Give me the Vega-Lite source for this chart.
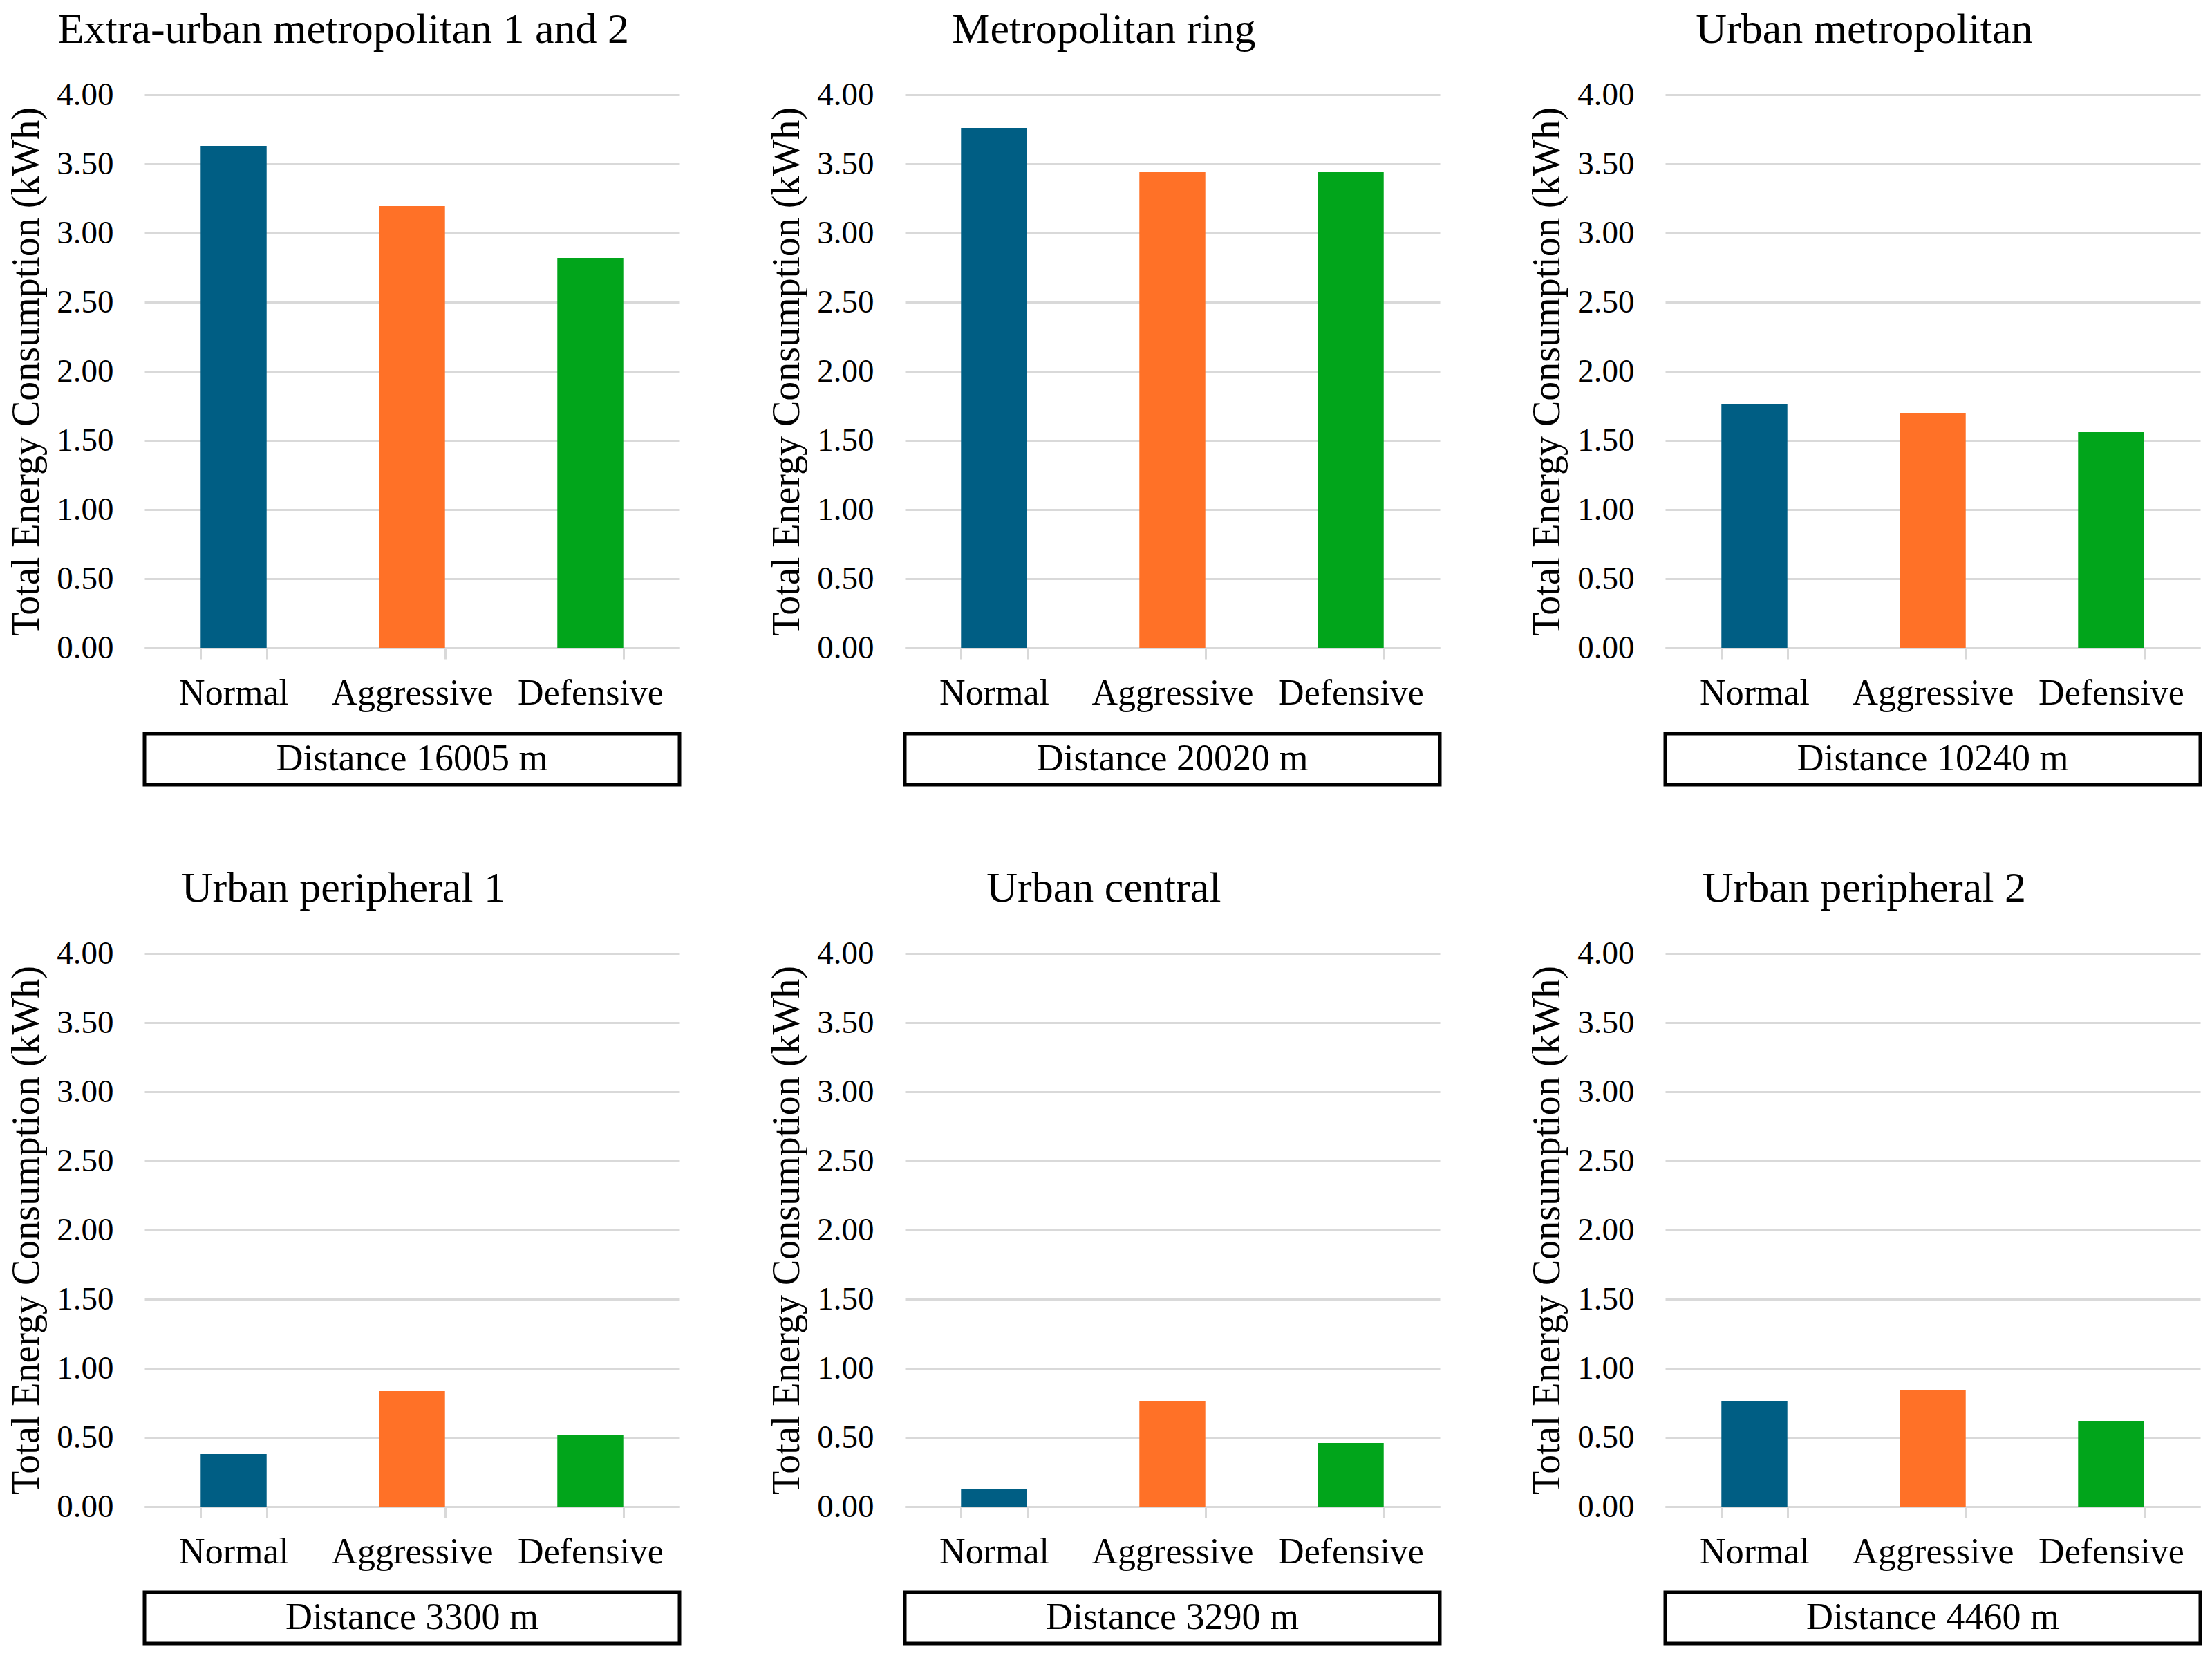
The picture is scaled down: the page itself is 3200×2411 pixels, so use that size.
{
  "$schema": "https://vega.github.io/schema/vega-lite/v6.json",
  "background": "white",
  "padding": {"left": 10, "top": 12, "right": 10, "bottom": 10},
  "datasets": {
    "energy": [
      {"region": "Extra-urban metropolitan 1 and 2", "style": "Normal", "kwh": 3.63},
      {"region": "Extra-urban metropolitan 1 and 2", "style": "Aggressive", "kwh": 3.195},
      {"region": "Extra-urban metropolitan 1 and 2", "style": "Defensive", "kwh": 2.82},
      {"region": "Metropolitan ring", "style": "Normal", "kwh": 3.76},
      {"region": "Metropolitan ring", "style": "Aggressive", "kwh": 3.44},
      {"region": "Metropolitan ring", "style": "Defensive", "kwh": 3.44},
      {"region": "Urban metropolitan", "style": "Normal", "kwh": 1.76},
      {"region": "Urban metropolitan", "style": "Aggressive", "kwh": 1.70},
      {"region": "Urban metropolitan", "style": "Defensive", "kwh": 1.56},
      {"region": "Urban peripheral 1", "style": "Normal", "kwh": 0.38},
      {"region": "Urban peripheral 1", "style": "Aggressive", "kwh": 0.835},
      {"region": "Urban peripheral 1", "style": "Defensive", "kwh": 0.52},
      {"region": "Urban central", "style": "Normal", "kwh": 0.13},
      {"region": "Urban central", "style": "Aggressive", "kwh": 0.76},
      {"region": "Urban central", "style": "Defensive", "kwh": 0.46},
      {"region": "Urban peripheral 2", "style": "Normal", "kwh": 0.76},
      {"region": "Urban peripheral 2", "style": "Aggressive", "kwh": 0.845},
      {"region": "Urban peripheral 2", "style": "Defensive", "kwh": 0.62}
    ],
    "panels": [
      {"region": "Extra-urban metropolitan 1 and 2", "distance": "Distance 16005 m"},
      {"region": "Metropolitan ring", "distance": "Distance 20020 m"},
      {"region": "Urban metropolitan", "distance": "Distance 10240 m"},
      {"region": "Urban peripheral 1", "distance": "Distance 3300 m"},
      {"region": "Urban central", "distance": "Distance 3290 m"},
      {"region": "Urban peripheral 2", "distance": "Distance 4460 m"}
    ]
  },
  "columns": 3,
  "spacing": {"row": 116, "column": 124},
  "concat": [
    {
      "spacing": 30,
      "vconcat": [
        {
          "title": "Extra-urban metropolitan 1 and 2",
          "data": {"name": "energy"},
          "transform": [{"filter": {"field": "region", "equal": "Extra-urban metropolitan 1 and 2"}}],
          "width": 774, "height": 800,
          "mark": "bar",
          "encoding": {
            "x": {"field": "style", "type": "nominal", "sort": ["Normal", "Aggressive", "Defensive"], "scale": {"paddingInner": 0.63, "paddingOuter": 0.315}, "axis": {"title": null}},
            "y": {"field": "kwh", "type": "quantitative", "scale": {"domain": [0, 4], "nice": false}, "axis": {"title": "Total Energy Consumption (kWh)", "values": [0, 0.5, 1, 1.5, 2, 2.5, 3, 3.5, 4], "format": ".2f"}},
            "color": {"field": "style", "type": "nominal", "scale": {"domain": ["Normal", "Aggressive", "Defensive"], "range": ["#005e84", "#ff7127", "#01a51b"]}, "legend": null}
          }
        },
        {
          "data": {"name": "panels"},
          "transform": [{"filter": {"field": "region", "equal": "Extra-urban metropolitan 1 and 2"}}],
          "width": 774, "height": 74,
          "view": {"stroke": "black", "strokeWidth": 5},
          "mark": {"type": "text", "font": "Liberation Serif", "fontSize": 54, "baseline": "middle", "align": "center"},
          "encoding": {"text": {"field": "distance"}}
        }
      ]
    },
    {
      "spacing": 30,
      "vconcat": [
        {
          "title": "Metropolitan ring",
          "data": {"name": "energy"},
          "transform": [{"filter": {"field": "region", "equal": "Metropolitan ring"}}],
          "width": 774, "height": 800,
          "mark": "bar",
          "encoding": {
            "x": {"field": "style", "type": "nominal", "sort": ["Normal", "Aggressive", "Defensive"], "scale": {"paddingInner": 0.63, "paddingOuter": 0.315}, "axis": {"title": null}},
            "y": {"field": "kwh", "type": "quantitative", "scale": {"domain": [0, 4], "nice": false}, "axis": {"title": "Total Energy Consumption (kWh)", "values": [0, 0.5, 1, 1.5, 2, 2.5, 3, 3.5, 4], "format": ".2f"}},
            "color": {"field": "style", "type": "nominal", "scale": {"domain": ["Normal", "Aggressive", "Defensive"], "range": ["#005e84", "#ff7127", "#01a51b"]}, "legend": null}
          }
        },
        {
          "data": {"name": "panels"},
          "transform": [{"filter": {"field": "region", "equal": "Metropolitan ring"}}],
          "width": 774, "height": 74,
          "view": {"stroke": "black", "strokeWidth": 5},
          "mark": {"type": "text", "font": "Liberation Serif", "fontSize": 54, "baseline": "middle", "align": "center"},
          "encoding": {"text": {"field": "distance"}}
        }
      ]
    },
    {
      "spacing": 30,
      "vconcat": [
        {
          "title": "Urban metropolitan",
          "data": {"name": "energy"},
          "transform": [{"filter": {"field": "region", "equal": "Urban metropolitan"}}],
          "width": 774, "height": 800,
          "mark": "bar",
          "encoding": {
            "x": {"field": "style", "type": "nominal", "sort": ["Normal", "Aggressive", "Defensive"], "scale": {"paddingInner": 0.63, "paddingOuter": 0.315}, "axis": {"title": null}},
            "y": {"field": "kwh", "type": "quantitative", "scale": {"domain": [0, 4], "nice": false}, "axis": {"title": "Total Energy Consumption (kWh)", "values": [0, 0.5, 1, 1.5, 2, 2.5, 3, 3.5, 4], "format": ".2f"}},
            "color": {"field": "style", "type": "nominal", "scale": {"domain": ["Normal", "Aggressive", "Defensive"], "range": ["#005e84", "#ff7127", "#01a51b"]}, "legend": null}
          }
        },
        {
          "data": {"name": "panels"},
          "transform": [{"filter": {"field": "region", "equal": "Urban metropolitan"}}],
          "width": 774, "height": 74,
          "view": {"stroke": "black", "strokeWidth": 5},
          "mark": {"type": "text", "font": "Liberation Serif", "fontSize": 54, "baseline": "middle", "align": "center"},
          "encoding": {"text": {"field": "distance"}}
        }
      ]
    },
    {
      "spacing": 30,
      "vconcat": [
        {
          "title": "Urban peripheral 1",
          "data": {"name": "energy"},
          "transform": [{"filter": {"field": "region", "equal": "Urban peripheral 1"}}],
          "width": 774, "height": 800,
          "mark": "bar",
          "encoding": {
            "x": {"field": "style", "type": "nominal", "sort": ["Normal", "Aggressive", "Defensive"], "scale": {"paddingInner": 0.63, "paddingOuter": 0.315}, "axis": {"title": null}},
            "y": {"field": "kwh", "type": "quantitative", "scale": {"domain": [0, 4], "nice": false}, "axis": {"title": "Total Energy Consumption (kWh)", "values": [0, 0.5, 1, 1.5, 2, 2.5, 3, 3.5, 4], "format": ".2f"}},
            "color": {"field": "style", "type": "nominal", "scale": {"domain": ["Normal", "Aggressive", "Defensive"], "range": ["#005e84", "#ff7127", "#01a51b"]}, "legend": null}
          }
        },
        {
          "data": {"name": "panels"},
          "transform": [{"filter": {"field": "region", "equal": "Urban peripheral 1"}}],
          "width": 774, "height": 74,
          "view": {"stroke": "black", "strokeWidth": 5},
          "mark": {"type": "text", "font": "Liberation Serif", "fontSize": 54, "baseline": "middle", "align": "center"},
          "encoding": {"text": {"field": "distance"}}
        }
      ]
    },
    {
      "spacing": 30,
      "vconcat": [
        {
          "title": "Urban central",
          "data": {"name": "energy"},
          "transform": [{"filter": {"field": "region", "equal": "Urban central"}}],
          "width": 774, "height": 800,
          "mark": "bar",
          "encoding": {
            "x": {"field": "style", "type": "nominal", "sort": ["Normal", "Aggressive", "Defensive"], "scale": {"paddingInner": 0.63, "paddingOuter": 0.315}, "axis": {"title": null}},
            "y": {"field": "kwh", "type": "quantitative", "scale": {"domain": [0, 4], "nice": false}, "axis": {"title": "Total Energy Consumption (kWh)", "values": [0, 0.5, 1, 1.5, 2, 2.5, 3, 3.5, 4], "format": ".2f"}},
            "color": {"field": "style", "type": "nominal", "scale": {"domain": ["Normal", "Aggressive", "Defensive"], "range": ["#005e84", "#ff7127", "#01a51b"]}, "legend": null}
          }
        },
        {
          "data": {"name": "panels"},
          "transform": [{"filter": {"field": "region", "equal": "Urban central"}}],
          "width": 774, "height": 74,
          "view": {"stroke": "black", "strokeWidth": 5},
          "mark": {"type": "text", "font": "Liberation Serif", "fontSize": 54, "baseline": "middle", "align": "center"},
          "encoding": {"text": {"field": "distance"}}
        }
      ]
    },
    {
      "spacing": 30,
      "vconcat": [
        {
          "title": "Urban peripheral 2",
          "data": {"name": "energy"},
          "transform": [{"filter": {"field": "region", "equal": "Urban peripheral 2"}}],
          "width": 774, "height": 800,
          "mark": "bar",
          "encoding": {
            "x": {"field": "style", "type": "nominal", "sort": ["Normal", "Aggressive", "Defensive"], "scale": {"paddingInner": 0.63, "paddingOuter": 0.315}, "axis": {"title": null}},
            "y": {"field": "kwh", "type": "quantitative", "scale": {"domain": [0, 4], "nice": false}, "axis": {"title": "Total Energy Consumption (kWh)", "values": [0, 0.5, 1, 1.5, 2, 2.5, 3, 3.5, 4], "format": ".2f"}},
            "color": {"field": "style", "type": "nominal", "scale": {"domain": ["Normal", "Aggressive", "Defensive"], "range": ["#005e84", "#ff7127", "#01a51b"]}, "legend": null}
          }
        },
        {
          "data": {"name": "panels"},
          "transform": [{"filter": {"field": "region", "equal": "Urban peripheral 2"}}],
          "width": 774, "height": 74,
          "view": {"stroke": "black", "strokeWidth": 5},
          "mark": {"type": "text", "font": "Liberation Serif", "fontSize": 54, "baseline": "middle", "align": "center"},
          "encoding": {"text": {"field": "distance"}}
        }
      ]
    }
  ],
  "config": {
    "view": {"stroke": null},
    "font": "Liberation Serif",
    "title": {"font": "Liberation Serif", "fontSize": 62, "fontWeight": "normal", "color": "black", "anchor": "middle", "frame": "bounds", "offset": 38},
    "axis": {"labelFont": "Liberation Serif", "titleFont": "Liberation Serif", "labelColor": "black", "titleColor": "black", "titleFontWeight": "normal", "labelLimit": 0},
    "axisX": {"labelAngle": 0, "labelFontSize": 52, "labelPadding": 24, "tickBand": "extent", "tickSize": 16, "tickColor": "#d9d9d9", "tickWidth": 3, "domainColor": "#d9d9d9", "domainWidth": 3, "grid": false},
    "axisY": {"labelFontSize": 47, "labelPadding": 45, "ticks": false, "domain": false, "gridColor": "#d9d9d9", "gridWidth": 3, "titleFontSize": 56, "titlePadding": 14}
  }
}
